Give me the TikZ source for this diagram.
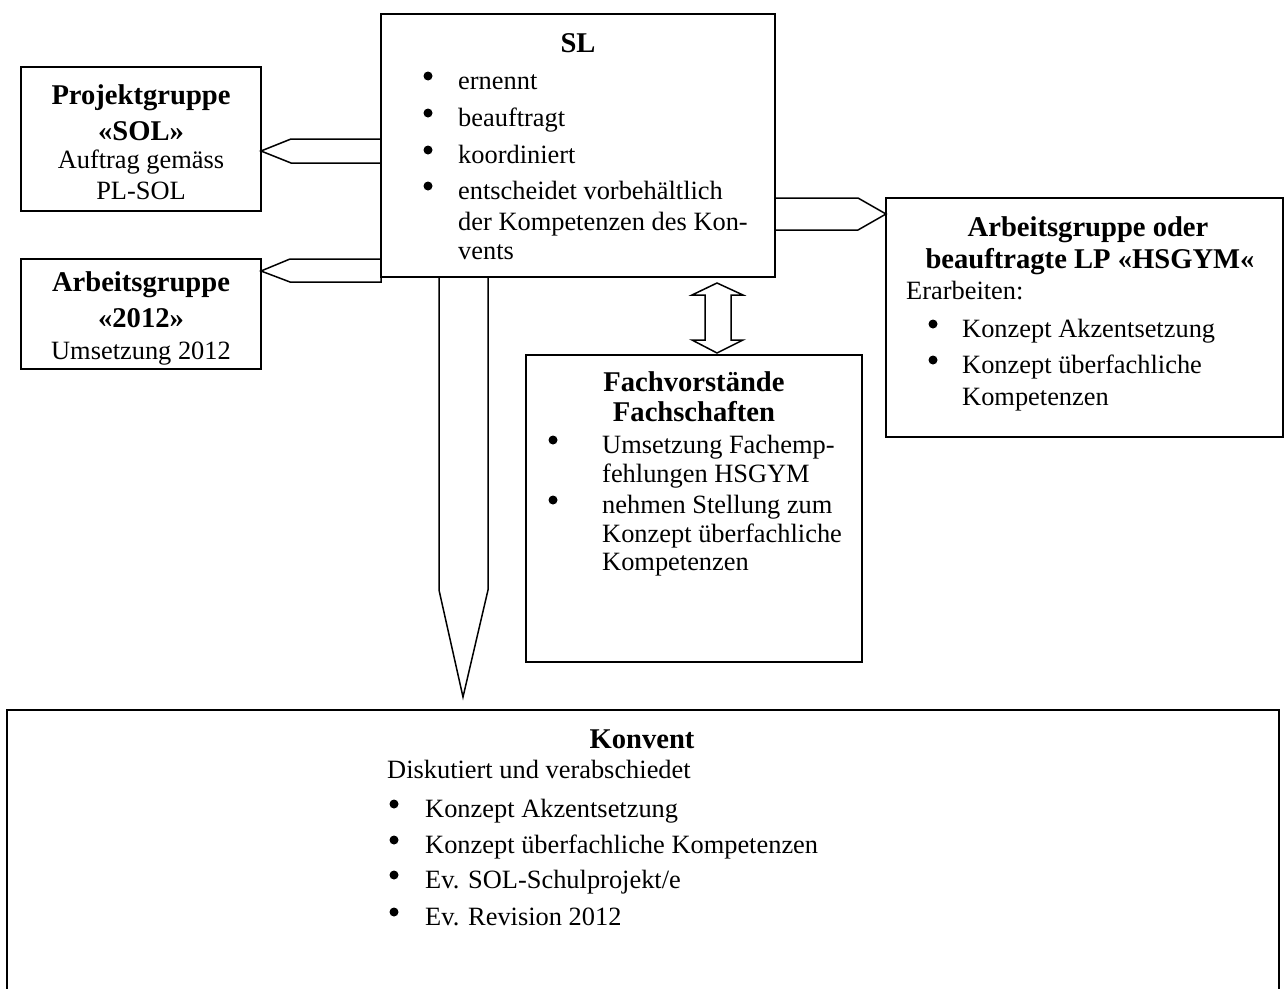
\documentclass[tikz,border=0pt]{standalone}
\usepackage{fontspec}
\setmainfont{Liberation Serif}
\newcommand\fsreg{\fontsize{26.4pt}{30pt}\selectfont}
\newcommand\fsbold{\fontsize{28.6pt}{32pt}\selectfont\bfseries}
\tikzset{
  box/.style={draw, line width=1.5pt, anchor=north west, inner sep=0pt, outer sep=0pt},
  tx/.style={anchor=base west, inner sep=0pt, font=\fsreg},
  txc/.style={anchor=base, inner sep=0pt, font=\fsreg},
  hd/.style={anchor=base, inner sep=0pt, font=\fsbold},
  conn/.style={draw, line width=1.5pt, line join=miter},
}
\newcommand\blt[2]{\fill (#1,#2-13) circle (4.5pt);}
\begin{document}
\begin{tikzpicture}[x=1pt,y=-1pt]
\useasboundingbox (0,0) rectangle (1284,988);
% boxes
\node[box, minimum width=394pt, minimum height=263pt] (sl) at (381,14) {};
\node[box, minimum width=240pt, minimum height=144pt] (pg) at (21,67) {};
\node[box, minimum width=240pt, minimum height=110pt] (ag) at (21,259) {};
\node[box, minimum width=397pt, minimum height=239pt] (hs) at (886,198) {};
\node[box, minimum width=336pt, minimum height=307pt] (fv) at (526,355) {};
\node[box, minimum width=1272pt, minimum height=300pt] (kv) at (7,710) {};

% SL
\node[hd] (slh) at (578,52) {SL};
\blt{428}{89}\node[tx] (sl1) at (458,89) {ernennt};
\blt{428}{126}\node[tx] (sl2) at (458,126) {beauftragt};
\blt{428}{163}\node[tx] (sl3) at (458,163) {koordiniert};
\blt{428}{199}\node[tx] (sl4) at (458,199) {entscheidet vorbehältlich};
\node[tx] (sl5) at (458,230) {der Kompetenzen des Kon-};
\node[tx] (sl6) at (458,259) {vents};

% Projektgruppe
\node[hd] (pg1) at (141,104) {Projektgruppe};
\node[hd] (pg2) at (141,140) {«SOL»};
\node[txc] (pg3) at (141,168) {Auftrag gemäss};
\node[txc] (pg4) at (141,199) {PL-SOL};

% Arbeitsgruppe 2012
\node[hd] (ag1) at (141,291) {Arbeitsgruppe};
\node[hd] (ag2) at (141,327) {«2012»};
\node[txc] (ag3) at (141,359) {Umsetzung 2012};

% HSGYM
\node[hd] (hs1) at (1088,236) {Arbeitsgruppe oder};
\node[hd] (hs2) at (1090,268) {beauftragte LP «HSGYM«};
\node[tx] (hs3) at (906,299) {Erarbeiten:};
\blt{933}{337}\node[tx] (hs4) at (962,337) {Konzept Akzentsetzung};
\blt{933}{373}\node[tx] (hs5) at (962,373) {Konzept überfachliche};
\node[tx] (hs6) at (962,405) {Kompetenzen};

% Fachvorstaende
\node[hd] (fv1) at (694,391) {Fachvorstände};
\node[hd] (fv2) at (694,421) {Fachschaften};
\blt{553}{453}\node[tx] (fv3) at (602,453) {Umsetzung Fachemp-};
\node[tx] (fv4) at (602,482) {fehlungen HSGYM};
\blt{553}{513}\node[tx] (fv5) at (602,513) {nehmen Stellung zum};
\node[tx] (fv6) at (602,542) {Konzept überfachliche};
\node[tx] (fv7) at (602,570) {Kompetenzen};

% Konvent
\node[hd] (kv1) at (642,748) {Konvent};
\node[tx] (kv2) at (387,778) {Diskutiert und verabschiedet};
\blt{394}{817}\node[tx] (kv3) at (425,817) {Konzept Akzentsetzung};
\blt{394}{853}\node[tx] (kv4) at (425,853) {Konzept überfachliche Kompetenzen};
\blt{394}{888}\node[tx] (kv5) at (425,888) {Ev. SOL-Schulprojekt/e};
\blt{394}{925}\node[tx] (kv6) at (425,925) {Ev. Revision 2012};

% block arrows
\draw[conn] (sl.west |- 0,139) -- (291,139) -- (pg.east |- 0,151) -- (291,163) -- (sl.west |- 0,163);
\draw[conn] (sl.west |- 0,259) -- (290,259) -- (ag.east |- 0,271) -- (290,282) -- (sl.west |- 0,282) -- cycle;
\draw[conn] (sl.east |- 0,198) -- (858,198) -- (hs.west |- 0,214) -- (858,230) -- (sl.east |- 0,230);
\coordinate (dtop) at (717,283);
\coordinate (dbot) at (717,353);
\draw[conn] (dtop) -- (743,295) -- (731,295) -- (731,340) -- (743,340) -- (dbot)
  -- (692,340) -- (705,340) -- (705,295) -- (692,295) -- cycle;
\coordinate (ptip) at (463,697);
\draw[conn] (sl.south -| 439,0) -- (439,590) -- (ptip) -- (488,590) -- (sl.south -| 488,0);
\end{tikzpicture}
\end{document}
